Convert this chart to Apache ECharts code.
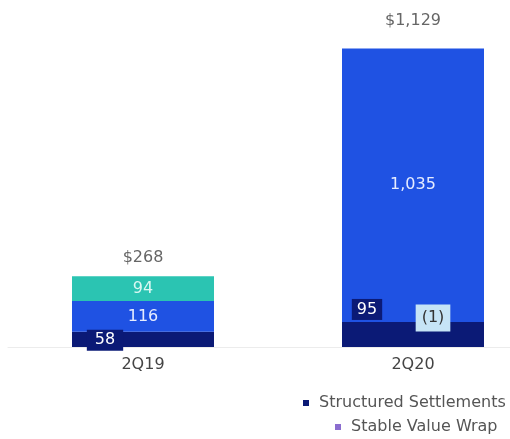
<!DOCTYPE html>
<html>
<head>
<meta charset="utf-8">
<script src="https://cdn.jsdelivr.net/npm/echarts@6/dist/echarts.min.js"></script>
<style>html,body{margin:0;padding:0;background:#fff}#c{width:510px;height:439px}</style>
</head>
<body>
<div id="c"></div>
<script>
const categories = ['2Q19', '2Q20'];
const structuredSettlements = [58, 95];
const pensionRiskTransfer = [116, 1035];
const otherProducts = [94, null];
const stableValueWrap = [null, -1];
const totals = [268, 1129];
const totalLabels = ['$268', '$1,129'];

const FONT = 'DejaVu Sans';
const chart = echarts.init(document.getElementById('c'), null, {renderer: 'canvas'});
const fmt = v => {
  const n = v.value;
  if (n == null) return '';
  if (n < 0) return '(' + Math.abs(n) + ')';
  return n.toLocaleString('en-US');
};
const ssOffsets = [[-38, 1], [-46, -25]];
const ssPadding = [[3, 8, 2, 8], [3, 5, 2, 5]];
chart.setOption({
  animation: false,
  grid: {left: 8, width: 540, top: 30, height: 317, outerBoundsMode: 'none', containLabel: false},
  legend: [
    {data: ['Structured Settlements'], left: 298, top: 389, orient: 'vertical',
     icon: 'rect', itemWidth: 6, itemHeight: 6, selectedMode: false,
     formatter: n => ' ' + n,
     textStyle: {fontFamily: FONT, fontSize: 16, color: '#555', lineHeight: 18}},
    {data: ['Stable Value Wrap'], left: 330, top: 413, orient: 'vertical',
     icon: 'rect', itemWidth: 6, itemHeight: 6, selectedMode: false,
     formatter: n => ' ' + n,
     textStyle: {fontFamily: FONT, fontSize: 16, color: '#555', lineHeight: 18}}
  ],
  xAxis: {
    type: 'category', data: categories,
    axisLine: {lineStyle: {color: '#ececec'}},
    axisTick: {show: false},
    axisLabel: {fontFamily: FONT, fontSize: 16, color: '#444', margin: 10}
  },
  yAxis: {type: 'value', min: 0, max: 1200, show: false, splitLine: {show: false}},
  series: [
    {name: 'Structured Settlements', type: 'bar', stack: 's', barWidth: 142,
     data: structuredSettlements.map((v, i) => ({value: v,
       label: {offset: ssOffsets[i], padding: ssPadding[i]}})),
     itemStyle: {color: '#0b1a76'},
     label: {show: true, position: 'inside', formatter: fmt,
       fontFamily: FONT, fontSize: 16, color: '#fff',
       backgroundColor: '#0b1a76'}},
    {name: 'Pension Risk Transfer', type: 'bar', stack: 's', barWidth: 142,
     data: pensionRiskTransfer, itemStyle: {color: '#1f52e3'},
     label: {show: true, position: 'inside', formatter: fmt,
       fontFamily: FONT, fontSize: 16, color: '#e6ecff'}},
    {name: 'Longevity', type: 'bar', stack: 's', barWidth: 142,
     data: otherProducts, itemStyle: {color: '#2bc4b2'},
     label: {show: true, position: 'inside', formatter: fmt,
       fontFamily: FONT, fontSize: 16, color: '#d9f7f2'}},
    {name: 'Stable Value Wrap', type: 'bar', stack: 's', barWidth: 142,
     data: stableValueWrap, itemStyle: {color: '#8b6dcf'},
     label: {show: true, position: 'inside', formatter: fmt, offset: [20, -29],
       fontFamily: FONT, fontSize: 16, color: '#333',
       backgroundColor: '#c6e4f6', padding: [6, 6, 5, 6]}},
    {name: 'Total', type: 'bar', barWidth: 142, barGap: '-100%', silent: true,
     data: totals.map((v, i) => ({value: v,
       label: {distance: i === 0 ? 9 : 18}})),
     itemStyle: {color: 'rgba(0,0,0,0)'},
     label: {show: true, position: 'top',
       formatter: p => totalLabels[p.dataIndex],
       fontFamily: FONT, fontSize: 16, color: '#666', lineHeight: 19}}
  ]
});
</script>
</body>
</html>
